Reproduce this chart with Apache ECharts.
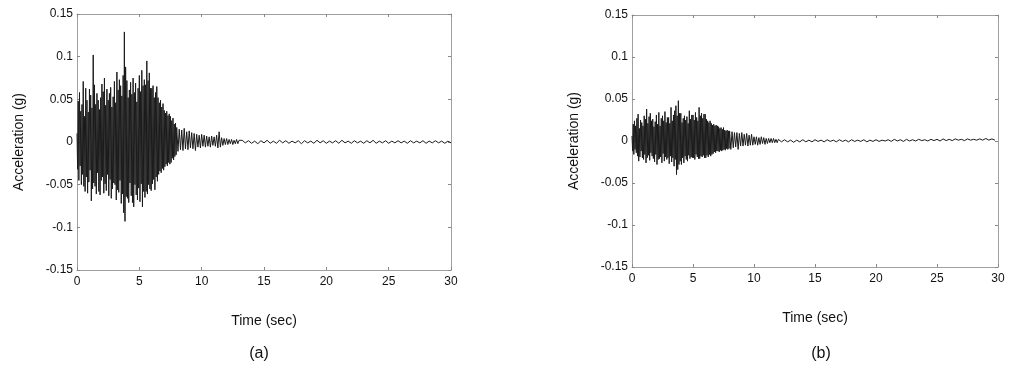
<!DOCTYPE html>
<html>
<head>
<meta charset="utf-8">
<script src="https://cdn.jsdelivr.net/npm/echarts@6/dist/echarts.min.js"></script>
<style>
html,body{margin:0;padding:0;background:#fff;}
#chart{width:1014px;height:370px;}
</style>
</head>
<body>
<div id="chart"></div>
<script>
// ---- Data ----
var xTicks = [0, 5, 10, 15, 20, 25, 30];
var yTicks = [-0.15, -0.1, -0.05, 0, 0.05, 0.1, 0.15];

// Record (a): strong motion, t = 0.00 ... 8.00 s, every 0.05 s
var accAStrong = [
 0.010,-0.032,0.048,-0.045,0.058,-0.028,0.036,-0.050,0.044,-0.038,
 0.071,-0.052,0.030,-0.058,0.063,-0.041,0.049,-0.060,0.035,-0.047,
 0.062,-0.033,0.055,-0.069,0.040,-0.055,0.102,-0.048,0.067,-0.052,
 0.044,-0.061,0.057,-0.036,0.049,-0.058,0.038,-0.062,0.052,-0.045,
 0.068,-0.041,0.059,-0.060,0.075,-0.049,0.043,-0.057,0.062,-0.038,
 0.049,-0.063,0.057,-0.044,0.064,-0.066,0.041,-0.055,0.053,-0.048,
 0.071,-0.050,0.046,-0.068,0.082,-0.056,0.061,-0.059,0.073,-0.045,
 0.066,-0.072,0.054,-0.061,0.078,-0.083,0.129,-0.093,0.088,-0.064,
 0.072,-0.066,0.052,-0.071,0.061,-0.048,0.070,-0.063,0.056,-0.071,
 0.075,-0.076,0.058,-0.050,0.069,-0.062,0.047,-0.068,0.063,-0.054,
 0.078,-0.070,0.059,-0.049,0.084,-0.076,0.066,-0.058,0.073,-0.065,
 0.067,-0.058,0.095,-0.061,0.072,-0.050,0.081,-0.055,0.063,-0.057,
 0.063,-0.049,0.066,-0.044,0.052,-0.056,0.058,-0.041,0.065,-0.046,
 0.052,-0.038,0.046,-0.034,0.049,-0.036,0.041,-0.031,0.045,-0.033,
 0.037,-0.029,0.034,-0.026,0.036,-0.028,0.031,-0.024,0.033,-0.026,
 0.030,-0.024,0.025,-0.019,0.028,-0.021,0.021,-0.017,0.022,-0.015,
 0.017
];
// Record (a): decay, t = 8.1 ... 13.0 s, every 0.1 s
var accADecay = [
 -0.011,0.015,-0.009,0.014,-0.010,0.016,-0.008,0.012,-0.009,0.013,
 -0.007,0.011,-0.008,0.010,-0.010,0.009,-0.006,0.008,-0.007,0.009,
 -0.005,0.008,-0.006,0.007,-0.005,0.006,-0.006,0.007,-0.004,0.006,
 -0.005,0.008,-0.007,0.012,-0.006,0.005,-0.004,0.004,-0.003,0.004,
 -0.003,0.003,-0.002,0.003,-0.003,0.002,-0.002,0.003,-0.002,0.002
];
// Record (a): tail, t = 13.25 ... 30.0 s, every 0.25 s
var accATail = [
 0.002,-0.001,0.0015,-0.0015,0.001,-0.002,0.0015,-0.001,0.002,-0.0015,
 0.001,-0.0015,0.002,-0.001,0.0015,-0.0015,0.001,-0.001,0.0015,-0.002,
 0.0015,-0.001,0.001,-0.0015,0.002,-0.001,0.0015,-0.0015,0.001,-0.001,
 0.0015,-0.0015,0.002,-0.001,0.001,-0.0015,0.0015,-0.001,0.001,-0.0015,
 0.0015,-0.001,0.002,-0.0015,0.001,-0.001,0.0015,-0.0015,0.001,-0.001,
 0.0015,-0.001,0.001,-0.0015,0.0015,-0.001,0.001,-0.001,0.0015,-0.0015,
 0.001,-0.001,0.0015,-0.001,0.001,-0.0015,0.001,-0.001
];

// Record (b): strong motion, t = 0.00 ... 8.00 s, every 0.05 s
var accBStrong = [
 0.006,-0.012,0.020,-0.016,0.024,-0.010,0.018,-0.014,0.027,-0.018,
 0.032,-0.024,0.015,-0.019,0.025,-0.012,0.022,-0.020,0.018,-0.022,
 0.030,-0.016,0.026,-0.026,0.038,-0.020,0.021,-0.017,0.029,-0.023,
 0.033,-0.014,0.024,-0.018,0.026,-0.021,0.017,-0.025,0.023,-0.016,
 0.031,-0.028,0.020,-0.022,0.034,-0.021,0.018,-0.019,0.027,-0.026,
 0.030,-0.015,0.024,-0.024,0.035,-0.019,0.022,-0.022,0.028,-0.020,
 0.028,-0.027,0.021,-0.018,0.040,-0.025,0.024,-0.020,0.031,-0.030,
 0.036,-0.022,0.042,-0.040,0.030,-0.034,0.048,-0.028,0.033,-0.024,
 0.033,-0.028,0.022,-0.020,0.027,-0.026,0.030,-0.018,0.025,-0.022,
 0.029,-0.024,0.021,-0.017,0.036,-0.021,0.026,-0.019,0.031,-0.020,
 0.031,-0.020,0.025,-0.022,0.034,-0.016,0.028,-0.019,0.024,-0.021,
 0.040,-0.021,0.030,-0.018,0.033,-0.019,0.027,-0.017,0.032,-0.020,
 0.032,-0.020,0.026,-0.017,0.024,-0.019,0.022,-0.016,0.024,-0.018,
 0.021,-0.016,0.019,-0.015,0.020,-0.013,0.018,-0.014,0.019,-0.012,
 0.018,-0.012,0.017,-0.013,0.015,-0.011,0.016,-0.012,0.014,-0.011,
 0.016,-0.010,0.013,-0.011,0.012,-0.009,0.013,-0.010,0.012,-0.009,
 0.012
];
// Record (b): decay, t = 8.1 ... 12.0 s, every 0.1 s
var accBDecay = [
 -0.010,0.011,-0.008,0.010,-0.007,0.010,-0.010,0.009,-0.006,0.010,
 -0.006,0.008,-0.005,0.009,-0.006,0.007,-0.005,0.008,-0.005,0.005,
 -0.004,0.005,-0.005,0.004,-0.004,0.005,-0.003,0.004,-0.004,0.003,
 -0.003,0.003,-0.002,0.003,-0.002,0.003,-0.002,0.002,-0.002,0.002
];
// Record (b): tail, t = 12.25 ... 30.0 s, every 0.25 s
var accBTail = [
 -0.001,0.0015,-0.001,0.001,-0.0015,0.001,-0.001,0.0015,-0.001,0.001,
 -0.001,0.0015,-0.0005,0.001,-0.001,0.0015,-0.0005,0.001,-0.001,0.0015,
 -0.0005,0.001,-0.001,0.0015,-0.0005,0.001,-0.0005,0.0015,-0.001,0.001,
 -0.0005,0.0015,-0.0005,0.001,0,0.0015,-0.0005,0.002,0,0.0015,
 -0.0005,0.002,0,0.0015,0,0.002,0.0005,0.0015,0,0.002,
 0.0005,0.002,0,0.0025,0.0005,0.002,0.0005,0.0025,0.001,0.002,
 0.0005,0.0025,0.001,0.002,0.001,0.0025,0.001,0.003,0.001,0.0025,0.001
];

// sampling of each segment: [first time (s), step (s)]
var segA = [[0, 0.05], [8.1, 0.1], [13.25, 0.25]];
var segB = [[0, 0.05], [8.1, 0.1], [12.25, 0.25]];

function buildSeries(arrays, seg) {
  var out = [];
  for (var k = 0; k < arrays.length; k++) {
    var arr = arrays[k], t0 = seg[k][0], dt = seg[k][1];
    for (var i = 0; i < arr.length; i++) out.push([+(t0 + i * dt).toFixed(3), arr[i]]);
  }
  return out;
}
var dataA = buildSeries([accAStrong, accADecay, accATail], segA);
var dataB = buildSeries([accBStrong, accBDecay, accBTail], segB);

// ---- Chart ----
var font = '"Liberation Sans", Arial, sans-serif';
var frame = {show: true, onZero: false, lineStyle: {color: '#a0a0a0', width: 1}};
function xAx(grid, main) {
  return {
    type: 'value', gridIndex: grid, min: xTicks[0], max: xTicks[xTicks.length - 1], interval: 5,
    position: main ? 'bottom' : 'top',
    name: main ? 'Time (sec)' : '', nameLocation: 'middle', nameGap: 44,
    nameTextStyle: {fontFamily: font, fontSize: 14, color: '#111'},
    axisLine: frame, axisTick: {show: true, inside: true, length: 3, lineStyle: {color: '#888'}},
    axisLabel: {show: main, fontFamily: font, fontSize: 12, color: '#111', margin: 6},
    splitLine: {show: false}
  };
}
function yAx(grid, main) {
  return {
    type: 'value', gridIndex: grid, min: yTicks[0], max: yTicks[yTicks.length - 1], interval: 0.05,
    position: main ? 'left' : 'right',
    name: main ? 'Acceleration (g)' : '', nameLocation: 'middle', nameGap: 51,
    nameTextStyle: {fontFamily: font, fontSize: 14, color: '#111'},
    axisLine: frame, axisTick: {show: true, inside: true, length: 3, lineStyle: {color: '#888'}},
    axisLabel: {show: main, fontFamily: font, fontSize: 12, color: '#111', margin: 4},
    splitLine: {show: false}
  };
}
var chart = echarts.init(document.getElementById('chart'), null, {renderer: 'canvas'});
chart.setOption({
  animation: false,
  backgroundColor: '#fff',
  title: [
    {text: '(a)', left: 254, top: 341, textAlign: 'center', textStyle: {fontFamily: font, fontSize: 16, fontWeight: 'normal', color: '#111'}},
    {text: '(b)', left: 816, top: 341, textAlign: 'center', textStyle: {fontFamily: font, fontSize: 16, fontWeight: 'normal', color: '#111'}}
  ],
  grid: [
    {left: 77, top: 14, width: 374, height: 256},
    {left: 632, top: 15, width: 366, height: 252}
  ],
  xAxis: [xAx(0, true), xAx(0, false), xAx(1, true), xAx(1, false)],
  yAxis: [yAx(0, true), yAx(0, false), yAx(1, true), yAx(1, false)],
  series: [
    {type: 'line', xAxisIndex: 0, yAxisIndex: 0, data: dataA, showSymbol: false, symbol: 'none',
     lineStyle: {color: '#1a1a1a', width: 1}},
    {type: 'line', xAxisIndex: 2, yAxisIndex: 2, data: dataB, showSymbol: false, symbol: 'none',
     lineStyle: {color: '#1a1a1a', width: 1}}
  ]
});
</script>
</body>
</html>
